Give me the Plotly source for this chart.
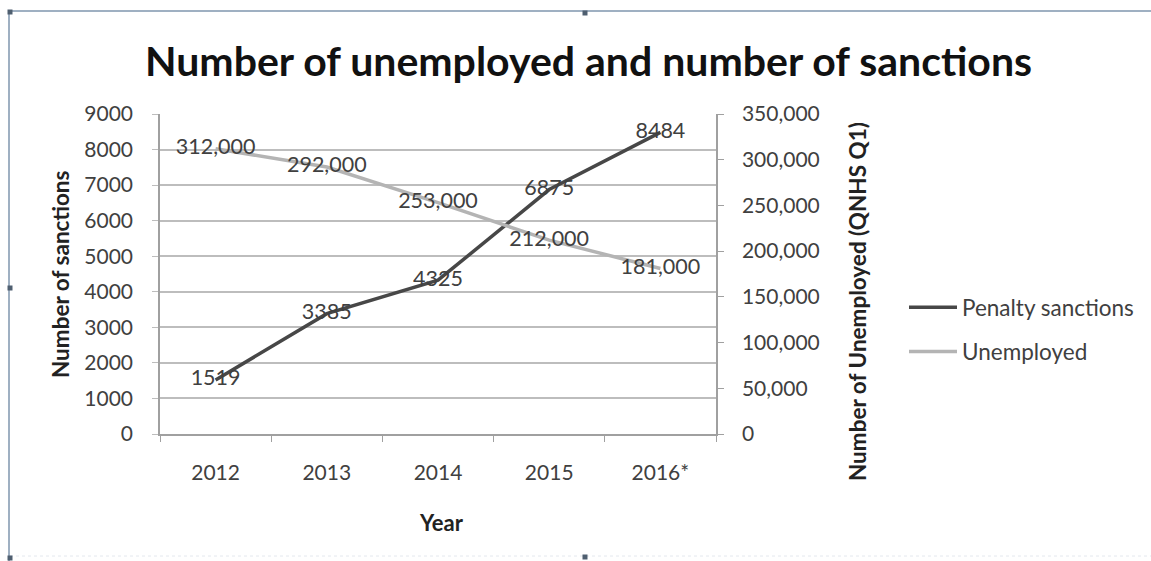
import plotly.graph_objects as go

years = ["2012", "2013", "2014", "2015", "2016*"]
penalty_sanctions = [1519, 3385, 4325, 6875, 8484]
unemployed = [312000, 292000, 253000, 212000, 181000]
penalty_labels = ["1519", "3385", "4325", "6875", "8484"]
unemployed_labels = ["312,000", "292,000", "253,000", "212,000", "181,000"]

W, H = 1151, 561
L, R, T, B = 160, 716, 114, 434
FONT = "Lato"
TXT = "#404040"

def px(x):
    return (x - L) / (R - L)

def py(y):
    return (B - y) / (B - T)

fig = go.Figure()
fig.add_trace(go.Scatter(
    x=years, y=penalty_sanctions, name="Penalty sanctions", mode="lines+text",
    text=penalty_labels, textposition="middle center",
    textfont=dict(family=FONT, size=21.5, color=TXT),
    line=dict(color="#474747", width=3.5), legendgroup="a", yaxis="y"))
fig.add_trace(go.Scatter(
    x=years, y=unemployed, name="Unemployed", mode="lines+text",
    text=unemployed_labels, textposition="middle center",
    textfont=dict(family=FONT, size=21.5, color=TXT),
    line=dict(color="#b4b4b4", width=3.5), legendgroup="b", yaxis="y2"))

shapes = []
bc = "#9fb0c2"
shapes.append(dict(type="line", xref="paper", yref="paper", x0=px(8), x1=px(1151), y0=py(11), y1=py(11), line=dict(color=bc, width=2)))
shapes.append(dict(type="line", xref="paper", yref="paper", x0=px(9), x1=px(9), y0=py(11), y1=py(561), line=dict(color=bc, width=2)))
shapes.append(dict(type="line", xref="paper", yref="paper", x0=px(10), x1=px(1151), y0=py(556), y1=py(556), line=dict(color="#e4e8ee", width=1, dash="dot")))
for (hx, hy) in [(10, 12), (585, 13), (10, 288), (10, 558), (585, 557)]:
    shapes.append(dict(type="rect", xref="paper", yref="paper", x0=px(hx - 2.5), x1=px(hx + 2.5), y0=py(hy - 2.5), y1=py(hy + 2.5), fillcolor="#4f5f70", line=dict(width=0)))

annotations = [
    dict(text="<b>Number of unemployed and number of sanctions</b>", xref="paper", yref="paper", x=px(588), y=py(60), showarrow=False, font=dict(family=FONT, size=41, color="#111111"), xanchor="center", yanchor="middle"),
    dict(text="<b>Number of sanctions</b>", xref="paper", yref="paper", x=px(60), y=py(274), showarrow=False, textangle=-90, font=dict(family=FONT, size=22.5, color="#222222"), xanchor="center", yanchor="middle"),
    dict(text="<b>Number of Unemployed (QNHS Q1)</b>", xref="paper", yref="paper", x=px(857), y=py(302), showarrow=False, textangle=-90, font=dict(family=FONT, size=22.5, color="#222222"), xanchor="center", yanchor="middle"),
    dict(text="<b>Year</b>", xref="paper", yref="paper", x=px(441), y=py(522), showarrow=False, font=dict(family=FONT, size=22, color="#222222"), xanchor="center", yanchor="middle"),
]

fig.update_layout(
    width=W, height=H,
    margin=dict(l=L, r=W - R, t=T, b=H - B, pad=0),
    paper_bgcolor="white", plot_bgcolor="white",
    font=dict(family=FONT, size=21, color=TXT),
    showlegend=True,
    legend=dict(x=px(904), y=py(286), xanchor="left", yanchor="top", font=dict(family=FONT, size=22.5, color=TXT),
                tracegroupgap=12, bgcolor="rgba(0,0,0,0)", itemwidth=48),
    xaxis=dict(type="category", tickson="boundaries", ticks="outside", ticklen=6, tickcolor="#a0a0a0",
               showline=True, linecolor="#a0a0a0", linewidth=1.5, showgrid=False, zeroline=False,
               tickfont=dict(family=FONT, size=21, color=TXT), ticklabelstandoff=19, range=[-0.5, 4.5]),
    yaxis=dict(range=[0, 9000], dtick=1000, tickformat="d", showgrid=True, gridcolor="#bdbdbd", gridwidth=1.5,
               ticks="outside", ticklen=6, tickcolor="#bdbdbd", showline=True, linecolor="#a0a0a0", linewidth=1.5,
               zeroline=False, tickfont=dict(family=FONT, size=21, color=TXT), ticklabelstandoff=15),
    yaxis2=dict(range=[0, 350000], dtick=50000, tickformat=",", overlaying="y", side="right", showgrid=False,
                ticks="outside", ticklen=6, tickcolor="#a0a0a0", showline=True, linecolor="#a0a0a0", linewidth=1.5,
                zeroline=False, tickfont=dict(family=FONT, size=21, color=TXT), ticklabelstandoff=14),
    shapes=shapes, annotations=annotations,
)

fig.write_html("out.html")
